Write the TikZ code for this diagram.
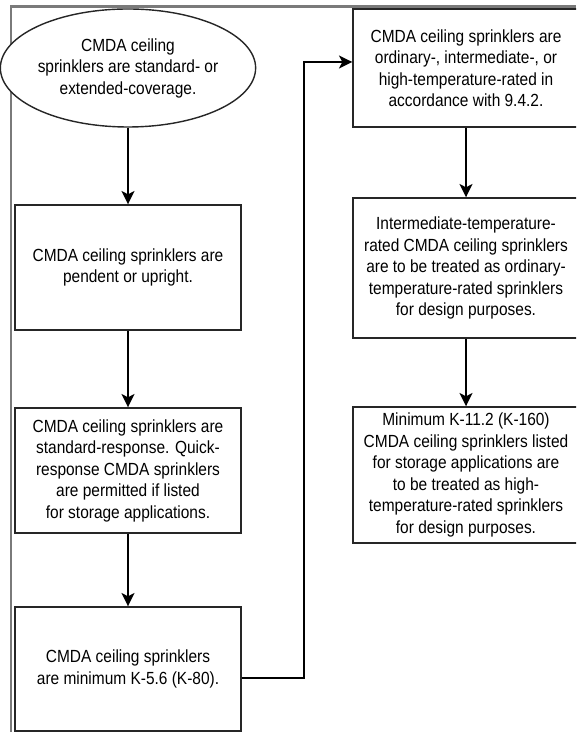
\documentclass[tikz,border=0pt]{standalone}
\usepackage{fontspec}
\setmainfont[FakeStretch=0.88]{Liberation Sans}
\usetikzlibrary{shapes.geometric,arrows.meta}

\begin{document}
\begin{tikzpicture}[
  every node/.style={font=\fontsize{12.5}{15.3}\selectfont, align=center, text=black},
  box/.style={draw=black!85, line width=1pt, fill=white, minimum width=5.65cm},
  oval/.style={ellipse, draw=black!85, line width=1pt, fill=white, minimum width=5.7cm, minimum height=2.95cm, inner sep=0pt},
  flow/.style={line width=1.4pt, -{Stealth[length=0.33cm,width=0.32cm,inset=0.08cm]}}]

\clip (0,0) rectangle (14.4,18.3);

% grey page frame
\draw[black!52, line width=1.8pt] (0.28,0) -- (0.28,18.14) -- (14.4,18.14);

% left column
\node[oval] (cover) at (3.2,16.6) {CMDA ceiling\\sprinklers are standard- or\\extended-coverage.};
\node[box, minimum height=3.125cm] (orient) at (3.2,11.6125) {CMDA ceiling sprinklers are\\pendent or upright.};
\node[box, minimum height=3.125cm] (resp) at (3.2,6.5375) {CMDA ceiling sprinklers are\\standard-response. Quick-\\response CMDA sprinklers\\are permitted if listed\\for storage applications.};
\node[box, minimum height=3.1cm] (kfac) at (3.2,1.575) {CMDA ceiling sprinklers\\are minimum K-5.6 (K-80).};

% right column
\node[box, minimum height=2.95cm] (temp) at (11.65,16.6) {CMDA ceiling sprinklers are\\ordinary-, intermediate-, or\\high-temperature-rated in\\accordance with 9.4.2.};
\node[box, minimum height=3.5cm] (inter) at (11.65,11.6) {Intermediate-temperature-\\rated CMDA ceiling sprinklers\\are to be treated as ordinary-\\temperature-rated sprinklers\\for design purposes.};
\node[box, minimum height=3.4cm] (high) at (11.65,6.425) {Minimum K-11.2 (K-160)\\CMDA ceiling sprinklers listed\\for storage applications are\\to be treated as high-\\temperature-rated sprinklers\\for design purposes.};

\draw[flow] (cover) -- (orient);
\draw[flow] (orient) -- (resp);
\draw[flow] (resp) -- (kfac);
\draw[flow] ([yshift=-0.22cm]kfac.east) -- ++(1.55,0) |- ([yshift=0.15cm]temp.west);
\draw[flow] (temp) -- (inter);
\draw[flow] (inter) -- (high);

\end{tikzpicture}
\end{document}
